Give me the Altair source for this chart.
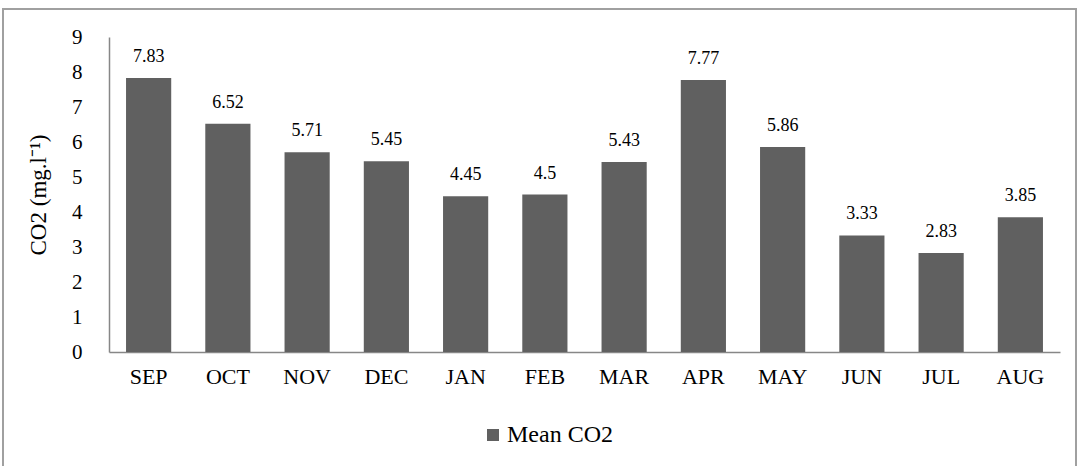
import altair as alt
import pandas as pd

months = ["SEP", "OCT", "NOV", "DEC", "JAN", "FEB", "MAR", "APR", "MAY", "JUN", "JUL", "AUG"]
mean_co2 = [7.83, 6.52, 5.71, 5.45, 4.45, 4.5, 5.43, 7.77, 5.86, 3.33, 2.83, 3.85]
series_name = "Mean CO2"
y_ticks = [0, 1, 2, 3, 4, 5, 6, 7, 8, 9]

df = pd.DataFrame({"month": months, "value": mean_co2, "series": [series_name] * len(months)})

FONT = "Liberation Serif"
BAR = "#606060"
AXIS = "#878787"

x_axis = alt.Axis(labelAngle=0, labelPadding=14, labelFontSize=22, ticks=False, grid=False)
y_axis = alt.Axis(values=y_ticks, labelPadding=27, labelFontSize=21, ticks=False, grid=False,
                  labelOverlap=False, titlePadding=21, titleFontSize=23)

x_enc = alt.X("month:N", sort=months, title=None,
              scale=alt.Scale(paddingInner=0.43, paddingOuter=0.215), axis=x_axis)
y_enc = alt.Y("value:Q", title="CO2 (mg.l⁻¹)",
              scale=alt.Scale(domain=[0, 9], nice=False), axis=y_axis)

border = alt.Chart(df).mark_rect(fill=None, stroke="#a0a0a0", strokeWidth=1.5).encode(
    x=alt.value(-106), x2=alt.value(967), y=alt.value(-28), y2=alt.value(440)
)

bars = alt.Chart(df).mark_bar(color=BAR).encode(
    x=x_enc,
    y=y_enc,
    color=alt.Color(
        "series:N",
        scale=alt.Scale(domain=[series_name], range=[BAR]),
        legend=alt.Legend(title=None, orient="none", legendX=372, legendY=386,
                          symbolType="square", symbolSize=144, symbolStrokeWidth=0,
                          labelFont=FONT, labelFontSize=24, labelColor="#000000",
                          labelOffset=2),
    ),
)

labels = alt.Chart(df).mark_text(font=FONT, fontSize=18, color="#000000", baseline="alphabetic", dy=-16).encode(
    x=x_enc,
    y=y_enc,
    text=alt.Text("value:Q"),
)

chart = alt.layer(border, bars, labels).properties(
    width=951, height=315,
    autosize=alt.AutoSizeParams(type="none"),
    padding={"left": 109, "top": 37, "right": 18, "bottom": 114},
).configure(background="#ffffff", font=FONT).configure_view(stroke=None).configure_axis(
    labelFont=FONT, labelColor="#000000",
    domainColor=AXIS, domainWidth=1.5,
    titleFont=FONT, titleFontWeight="normal", titleColor="#000000",
)

chart.save("out.html", embed_options={"renderer": "svg", "actions": False})
